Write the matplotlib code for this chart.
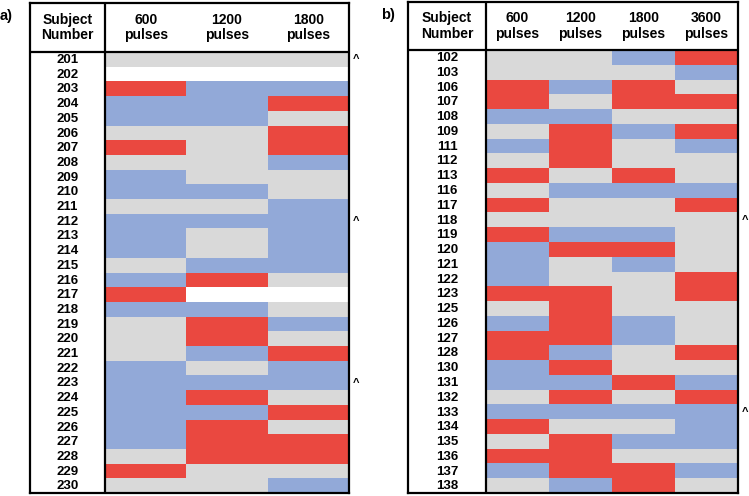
import matplotlib
matplotlib.use("Agg")
import matplotlib.pyplot as plt
import numpy as np
from matplotlib.colors import ListedColormap

plt.rcParams["font.family"] = ["Liberation Sans", "DejaVu Sans"]
plt.rcParams["font.weight"] = "bold"

# 单元格编码: W=空白, G=灰, B=蓝, R=红
CODE = {"W": 0, "G": 1, "B": 2, "R": 3}
CMAP = ListedColormap(["#ffffff", "#d9d9d9", "#92a9d8", "#ea4840"])

# a) 数据
subjects_a = [str(n) for n in range(201, 231)]
columns_a = ["600\npulses", "1200\npulses", "1800\npulses"]
cells_a = [
    "GGG", "WWW", "RBB", "BBR", "BBG", "GGR", "RGR", "GGB", "BGG", "BBG",
    "GGB", "BBB", "BGB", "BGB", "GBB", "BRG", "RWW", "BBG", "GRB", "GRG",
    "GBR", "BGB", "BBB", "BRG", "BBR", "BRG", "BRR", "GRR", "RGG", "GGB",
]
marked_a = ["201", "212", "223"]

# b) 数据
subjects_b = ["102", "103", "106", "107", "108", "109", "111", "112", "113", "116",
              "117", "118", "119", "120", "121", "122", "123", "125", "126", "127",
              "128", "130", "131", "132", "133", "134", "135", "136", "137", "138"]
columns_b = ["600\npulses", "1200\npulses", "1800\npulses", "3600\npulses"]
cells_b = [
    "GGBR", "GGGB", "RBRG", "RGRR", "BBGG", "GRBR", "BRGB", "GRGG", "RGRG", "GBBB",
    "RGGR", "GGGG", "RBBG", "BRRG", "BGBG", "BGGR", "RRGR", "GRGG", "BRBG", "RRBG",
    "RBGR", "BRGG", "BBRB", "GRGR", "BBBB", "RGGB", "GRBB", "RRGG", "BRRB", "GBRG",
]
marked_b = ["118", "133"]

W, H = 749, 496


def draw_table(fig, box, subj_px, head_px, subjects, columns, cells, marked, tag, tag_dx):
    """box = (left, top, right, bottom) 像素坐标."""
    left, top, right, bottom = box
    ax = fig.add_axes([left / W, 1 - bottom / H, (right - left) / W, (bottom - top) / H])
    ncol = len(columns)
    nrow = len(subjects)
    col_w = (right - left - subj_px) / ncol
    row_h = (bottom - top - head_px) / nrow
    sw = subj_px / col_w
    hh = head_px / row_h

    grid = np.array([[CODE[c] for c in row] for row in cells])
    ax.pcolormesh(np.arange(ncol + 1), np.arange(nrow + 1), grid,
                  cmap=CMAP, vmin=-0.5, vmax=3.5)
    ax.set_xlim(-sw, ncol)
    ax.set_ylim(nrow, -hh)
    ax.set_xticks([])
    ax.set_yticks([])
    for s in ax.spines.values():
        s.set_linewidth(1.6)
    ax.axvline(0, color="black", linewidth=1.6)
    ax.axhline(0, color="black", linewidth=1.6)

    ax.text(-sw / 2, -hh / 2, "Subject\nNumber", ha="center", va="center",
            fontsize=10, fontweight="bold", linespacing=1.15)
    for j, c in enumerate(columns):
        ax.text(j + 0.5, -hh / 2, c, ha="center", va="center",
                fontsize=10, fontweight="bold", linespacing=1.15)
    for i, s in enumerate(subjects):
        ax.text(-sw / 2, i + 0.55, s, ha="center", va="center",
                fontsize=9.5, fontweight="bold")
        if s in marked:
            ax.text(ncol + 7 / col_w, i + 0.5, "^", ha="center", va="center",
                    fontsize=8, fontweight="bold", clip_on=False)
    ax.text(-sw - tag_dx / col_w, -hh + 13 / row_h, tag, ha="left", va="center",
            fontsize=10.5, fontweight="bold", clip_on=False)


fig = plt.figure(figsize=(W / 100, H / 100), dpi=100)
draw_table(fig, (30, 3, 349, 493), 75, 49, subjects_a, columns_a, cells_a, marked_a, "a)", 30)
draw_table(fig, (408, 2, 738, 493), 78, 48, subjects_b, columns_b, cells_b, marked_b, "b)", 27)
fig.savefig("out.png", dpi=100)
